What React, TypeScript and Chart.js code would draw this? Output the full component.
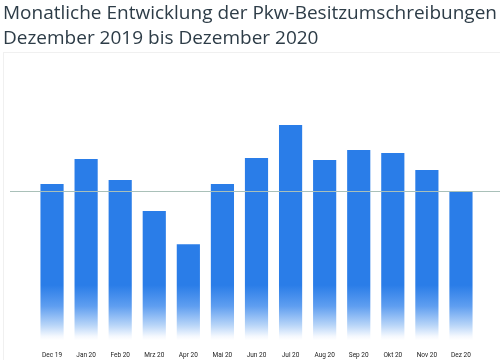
import React, { useEffect, useRef } from "react";
import { Chart, registerables } from "chart.js";

Chart.register(...registerables);

const categories = ["Dec 19", "Jan 20", "Feb 20", "Mrz 20", "Apr 20", "Mai 20", "Jun 20", "Jul 20", "Aug 20", "Sep 20", "Okt 20", "Nov 20", "Dez 20"];
const values = [156, 181, 160, 129, 96, 156, 182, 215, 180, 190, 187, 170, 149];
const referenceValue = 149;
const yMax = 280;

const titleLines = ["Monatliche Entwicklung der Pkw-Besitzumschreibungen", "Dezember 2019 bis Dezember 2020"];

const refLinePlugin = {
  id: "refLine",
  afterDatasetsDraw(chart: any) {
    const y = Math.round(chart.scales.y.getPixelForValue(referenceValue)) + 0.5;
    const ctx = chart.ctx;
    ctx.save();
    ctx.strokeStyle = "#a9c0b9";
    ctx.lineWidth = 1;
    ctx.beginPath();
    ctx.moveTo(10, y);
    ctx.lineTo(chart.width, y);
    ctx.stroke();
    ctx.restore();
  },
};

export default function App() {
  const ref = useRef<HTMLCanvasElement>(null);
  useEffect(() => {
    const chart = new Chart(ref.current!, {
      type: "bar",
      data: {
        labels: categories,
        datasets: [
          {
            data: values,
            backgroundColor: (c: any) => {
              const ch = c.chart;
              const area = ch.chartArea;
              if (!area) return "#2a7de8";
              const g = ch.ctx.createLinearGradient(0, area.top, 0, area.bottom);
              const span = area.bottom - area.top;
              const at = (py: number) => Math.min(1, Math.max(0, (py - area.top) / span));
              g.addColorStop(0, "#2a7de8");
              g.addColorStop(at(area.bottom - 55), "#2a7de8");
              g.addColorStop(at(area.bottom - 34), "#5f9ef0");
              g.addColorStop(at(area.bottom - 15), "#b8d5f8");
              g.addColorStop(at(area.bottom - 4), "#f4f8fe");
              g.addColorStop(1, "#ffffff");
              return g;
            },
            barPercentage: 0.68,
            categoryPercentage: 1.0,
          },
        ],
      },
      options: {
        animation: false,
        responsive: false,
        layout: { padding: { left: 35, right: 22, top: 60, bottom: 2 } },
        plugins: { legend: { display: false }, tooltip: { enabled: false }, title: { display: false } },
        scales: {
          x: {
            grid: { display: false },
            border: { display: false },
            ticks: { color: "#222", font: { family: "Roboto", size: 6.5 }, maxRotation: 0, autoSkip: false, padding: 3 },
          },
          y: { display: false, min: 0, max: yMax },
        },
      },
      plugins: [refLinePlugin],
    });
    return () => chart.destroy();
  }, []);
  return (
    <div style={{ position: "absolute", left: 0, top: 0, width: 500, height: 360, background: "#fff", overflow: "hidden" }}>
      <div style={{ position: "absolute", left: 3, top: 52, right: 0, bottom: 0, borderTop: "1px solid #f0f0f0", borderLeft: "1px solid #f0f0f0" }} />
      <canvas ref={ref} width={500} height={364} style={{ position: "absolute", left: 0, top: 0 }} />
      <div style={{ position: "absolute", left: 3, top: 0, fontFamily: "'Open Sans'", fontSize: 19, lineHeight: "25px", color: "#2d3c47", whiteSpace: "nowrap" }}>
        {titleLines.map((t) => (
          <div key={t}>{t}</div>
        ))}
      </div>
    </div>
  );
}
